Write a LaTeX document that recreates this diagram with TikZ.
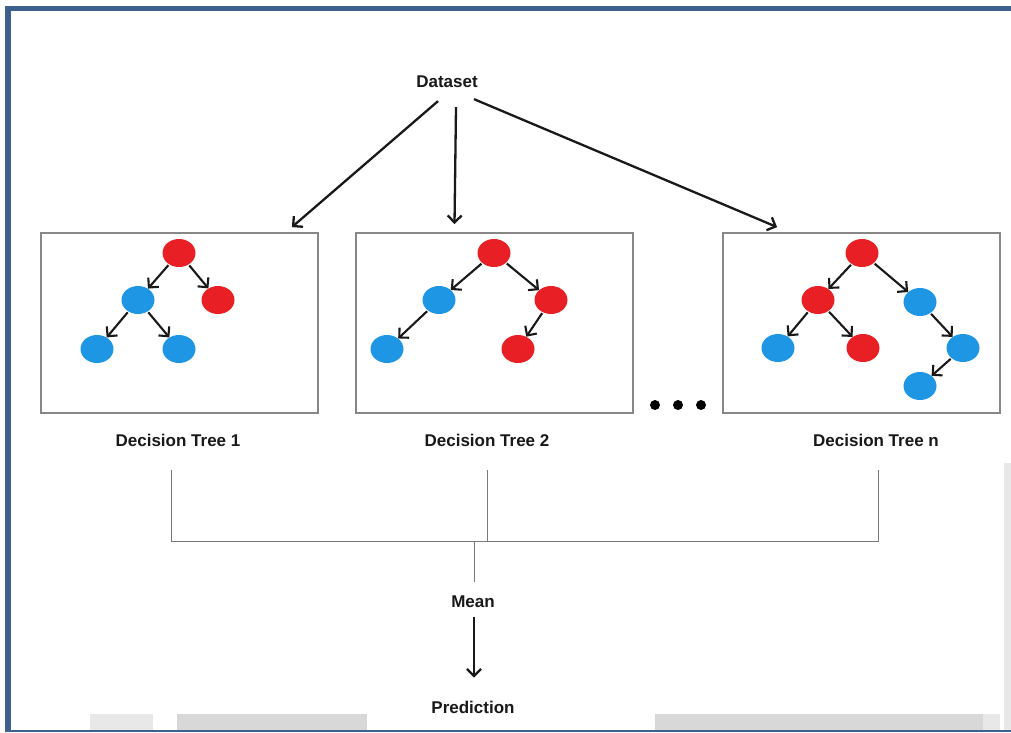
\documentclass[tikz,border=0pt]{standalone}
\usepackage{fontspec}
\setmainfont{Liberation Sans}
\usetikzlibrary{arrows.meta,shapes.geometric}
\definecolor{frameblue}{RGB}{61,96,140}
\definecolor{nodered}{RGB}{232,32,38}
\definecolor{nodeblue}{RGB}{30,150,228}
\definecolor{boxgray}{RGB}{135,135,135}
\definecolor{linegray}{RGB}{120,120,120}
\definecolor{ink}{RGB}{25,25,25}
\definecolor{stripgray}{RGB}{216,216,216}
\definecolor{stripgraylight}{RGB}{232,232,232}
\begin{document}
\begin{tikzpicture}[x=1pt,y=-1pt,
  lbl/.style={font=\bfseries\fontsize{17}{20}\selectfont, text=ink, inner sep=1pt},
  rnode/.style={ellipse, fill=nodered, minimum width=33pt, minimum height=28pt, inner sep=0pt},
  bnode/.style={rnode, fill=nodeblue},
  arr/.style={draw=ink, line width=2.3pt, -{Straight Barb[length=7pt,width=14pt]}},
  tarr/.style={arr, line width=2.1pt, shorten <=1pt},
  box/.style={draw=boxgray, line width=1.8pt, minimum width=277pt, minimum height=180pt, inner sep=0pt},
  conn/.style={draw=linegray, line width=1pt},
  dotn/.style={circle, fill=black, minimum size=10pt, inner sep=0pt}]
\useasboundingbox (0,0) rectangle (1011,732);
\fill[white] (0,0) rectangle (1011,732);
% background artifacts (gray strips)
\fill[stripgraylight] (90,714) rectangle (153,729.5);
\fill[stripgray] (177,714) rectangle (367,729.5);
\fill[stripgray] (655,714) rectangle (983,729.5);
\fill[stripgraylight] (983,714) rectangle (1000,729.5);
\fill[stripgraylight] (1004,463) rectangle (1011,729.5);
% frame
\fill[frameblue] (5,6) rectangle (11,732);
\fill[frameblue] (5,6) rectangle (1011,11);
\fill[frameblue] (5,729.5) rectangle (1011,732);
% labels
\node[lbl] (ds) at (447,82) {Dataset};
\node[lbl] (l1) at (178,440) {Decision Tree 1};
\node[lbl] (l2) at (487,440) {Decision Tree 2};
\node[lbl] (ln) at (876,440) {Decision Tree n};
\node[lbl] (mean) at (473,602) {Mean};
\node[lbl] (pred) at (473,707) {Prediction};
% boxes
\node[box] (bx1) at (179.5,323) {};
\node[box] (bx2) at (494.5,323) {};
\node[box] (bx3) at (861.5,323) {};
% dataset arrows
\draw[arr] ([xshift=-9pt,yshift=-12pt]ds.south) -- ([xshift=-27pt,yshift=5pt]bx1.north east);
\draw[arr] ([xshift=9pt,yshift=-18pt]ds.south) -- ([xshift=-40pt,yshift=8pt]bx2.north);
\draw[arr] ([xshift=27pt,yshift=-10pt]ds.south) -- ([xshift=55pt,yshift=5pt]bx3.north west);
% tree 1
\node[rnode] (a1) at (179,253) {};
\node[bnode] (a2) at (138,300) {};
\node[rnode] (a3) at (218,300) {};
\node[bnode] (a4) at (97,349) {};
\node[bnode] (a5) at (179,349) {};
\draw[tarr] (a1) -- (a2);
\draw[tarr] (a1) -- (a3);
\draw[tarr] (a2) -- (a4);
\draw[tarr] (a2) -- (a5);
% tree 2
\node[rnode] (b1) at (494,253) {};
\node[bnode] (b2) at (439,300) {};
\node[rnode] (b3) at (551,300) {};
\node[bnode] (b4) at (387,349) {};
\node[rnode] (b5) at (518,349) {};
\draw[tarr] (b1) -- (b2);
\draw[tarr] (b1) -- (b3);
\draw[tarr] (b2) -- (b4);
\draw[tarr] (b3) -- (b5);
% tree n
\node[rnode] (c1) at (862,253) {};
\node[rnode] (c2) at (818,300) {};
\node[bnode] (c3) at (920,302) {};
\node[bnode] (c4) at (778,348) {};
\node[rnode] (c5) at (863,348) {};
\node[bnode] (c6) at (963,348) {};
\node[bnode] (c7) at (920,386) {};
\draw[tarr] (c1) -- (c2);
\draw[tarr] (c1) -- (c3);
\draw[tarr] (c2) -- (c4);
\draw[tarr] (c2) -- (c5);
\draw[tarr] (c3) -- (c6);
\draw[tarr] (c6) -- (c7);
% dots
\node[dotn] (d1) at (655,405) {};
\node[dotn] (d2) at (678,405) {};
\node[dotn] (d3) at (701,405) {};
% connectors
\coordinate (t1) at (171,470);
\coordinate (t2) at (487,470);
\coordinate (tn) at (878,470);
\coordinate (h1) at (171,541);
\coordinate (h2) at (487,541);
\coordinate (hn) at (878,541);
\coordinate (j) at (474,541);
\coordinate (jm) at (474,582);
\draw[conn] (t1) -- (h1) -- (hn) -- (tn);
\draw[conn] (t2) -- (h2);
\draw[conn] (j) -- (jm);
\draw[arr] ([xshift=1pt,yshift=-8pt]mean.south) -- ([xshift=1pt,yshift=22pt]pred.north);
\end{tikzpicture}
\end{document}
